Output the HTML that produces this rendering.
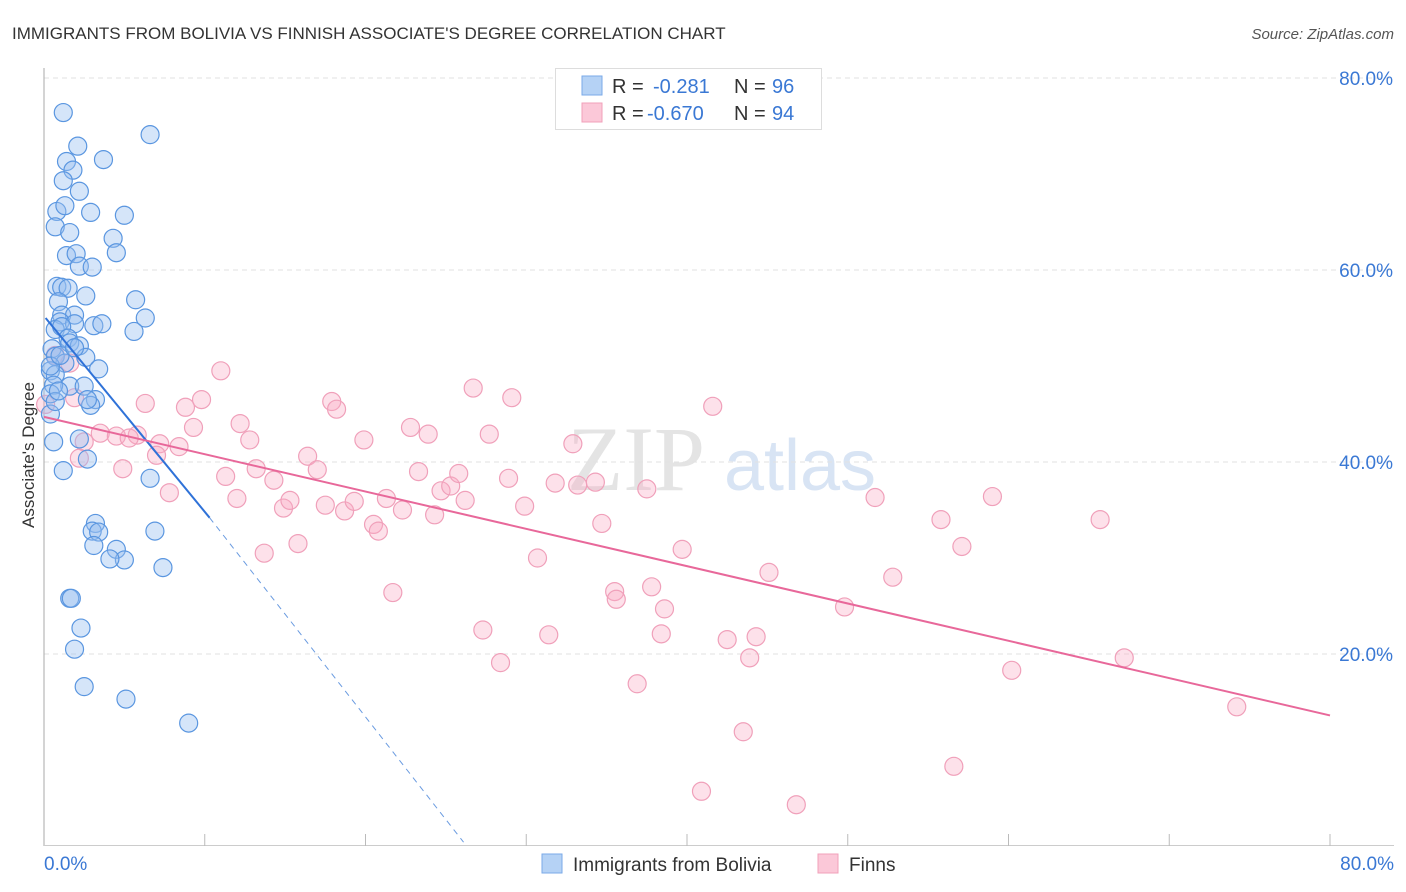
<!DOCTYPE html>
<html><head><meta charset="utf-8"><style>
body{margin:0;background:#fff;font-family:"Liberation Sans",sans-serif;}
#wrap{position:relative;width:1406px;height:892px;overflow:hidden;}
</style></head><body>
<div id="wrap">
<svg id="svg" width="1406" height="892" xmlns="http://www.w3.org/2000/svg" font-family="Liberation Sans, sans-serif">
<text x="12" y="39" font-size="17" fill="#333">IMMIGRANTS FROM BOLIVIA VS FINNISH ASSOCIATE'S DEGREE CORRELATION CHART</text>
<text x="1394" y="39" font-size="15" fill="#555" font-style="italic" text-anchor="end">Source: ZipAtlas.com</text>
<text x="34" y="455" font-size="17" fill="#333" text-anchor="middle" transform="rotate(-90 34 455)">Associate's Degree</text>
<g><text x="636" y="490" font-size="92" fill="#e4e4e4" font-family="Liberation Serif, serif" text-anchor="middle">ZIP</text><text x="800" y="490" font-size="72" fill="#d8e4f4" text-anchor="middle">atlas</text></g>
<g id="grid"></g><g id="axes"></g><g id="pts"></g><g id="lines"></g>
<g>
<rect x="555.5" y="68.5" width="266" height="61" fill="#fff" stroke="#ddd"/>
<rect x="582" y="76" width="20" height="19" fill="#b5d2f5" stroke="#7aaae8"/>
<rect x="582" y="103" width="20" height="19" fill="#fbc8d8" stroke="#f0a0ba"/>
<text x="612" y="93" font-size="20" fill="#333">R = </text><text x="653" y="93" font-size="20" fill="#3a78d4">-0.281</text>
<text x="734" y="93" font-size="20" fill="#333">N = </text><text x="772" y="93" font-size="20" fill="#3a78d4">96</text>
<text x="612" y="120" font-size="20" fill="#333">R = </text><text x="647" y="120" font-size="20" fill="#3a78d4">-0.670</text>
<text x="734" y="120" font-size="20" fill="#333">N = </text><text x="772" y="120" font-size="20" fill="#3a78d4">94</text>
</g>
<g>
<rect x="542" y="854" width="20" height="19" fill="#b5d2f5" stroke="#7aaae8"/>
<text x="573" y="871" font-size="19" fill="#333">Immigrants from Bolivia</text>
<rect x="818" y="854" width="20" height="19" fill="#fbc8d8" stroke="#f0a0ba"/>
<text x="849" y="871" font-size="19" fill="#333">Finns</text>
</g>
</svg></div>
<script>
const NS="http://www.w3.org/2000/svg";
const yTicks=[20,40,60,80];
const yTickLabels=["20.0%","40.0%","60.0%","80.0%"];
const xTickLabels=["0.0%","80.0%"];
const boliviaX=[1.2,6.6,2.1,1.4,3.7,1.8,1.2,2.2,0.8,1.3,2.9,5.0,0.7,1.6,4.3,4.5,1.4,2.0,2.2,3.0,0.8,1.1,1.5,2.6,5.7,0.9,6.3,1.1,1.9,1.0,1.9,3.1,3.6,5.6,0.7,1.1,1.5,1.6,2.2,0.5,0.7,2.6,1.3,3.4,0.4,0.7,1.6,0.6,2.5,3.2,0.4,2.9,2.7,0.4,2.2,2.7,1.2,6.6,0.6,3.2,3.0,3.4,4.5,3.1,6.9,5.0,4.1,7.4,1.6,1.7,2.3,1.9,2.5,5.1,9.0,0.4,0.7,1.0,1.9,0.9];
const boliviaY=[76.4,74.1,72.9,71.3,71.5,70.4,69.3,68.2,66.1,66.7,66.0,65.7,64.5,63.9,63.3,61.8,61.5,61.7,60.4,60.3,58.3,58.2,58.1,57.3,56.9,56.7,55.0,55.3,55.3,54.6,54.4,54.2,54.4,53.6,53.8,54.1,52.9,52.4,52.1,51.8,51.0,50.9,50.3,49.7,49.5,49.1,47.9,48.0,47.9,46.5,47.1,45.9,46.5,45.0,42.4,40.3,39.1,38.3,42.1,33.6,32.8,32.7,30.9,31.3,32.8,29.8,29.9,29.0,25.8,25.8,22.7,20.5,16.6,15.3,12.8,50.0,46.3,51.1,51.9,47.4];
const finnsX=[0.1,0.7,1.6,11.0,26.7,29.1,6.3,8.8,9.8,41.6,17.9,18.2,1.9,2.5,3.5,4.5,5.8,5.3,7.2,9.3,8.4,12.2,12.8,19.9,22.8,23.9,27.7,32.9,2.2,4.9,7.0,11.3,13.2,16.4,17.0,14.3,14.9,15.3,12.0,7.8,17.5,18.7,19.3,20.5,20.8,21.3,22.3,23.3,24.3,24.7,25.3,25.8,26.2,28.9,29.9,31.8,33.2,34.3,34.7,37.5,30.7,13.7,15.8,39.7,21.7,35.5,35.6,37.8,38.6,38.4,31.4,27.3,28.4,36.9,42.5,44.3,43.9,43.5,45.1,40.9,46.8,49.8,51.7,52.8,55.8,57.1,59.0,56.6,60.2,65.7,67.2,74.2];
const finnsY=[46.0,51.1,50.3,49.5,47.7,46.7,46.1,45.7,46.5,45.8,46.3,45.5,46.7,42.1,43.0,42.7,42.8,42.5,41.9,43.6,41.6,44.0,42.3,42.3,43.6,42.9,42.9,41.9,40.4,39.3,40.7,38.5,39.3,40.6,39.2,38.1,35.2,36.0,36.2,36.8,35.5,34.9,35.9,33.5,32.8,36.2,35.0,39.0,34.5,37.0,37.5,38.8,36.0,38.3,35.4,37.8,37.6,37.9,33.6,37.2,30.0,30.5,31.5,30.9,26.4,26.5,25.7,27.0,24.7,22.1,22.0,22.5,19.1,16.9,21.5,21.8,19.6,11.9,28.5,5.7,4.3,24.9,36.3,28.0,34.0,31.2,36.4,8.3,18.3,34.0,19.6,14.5];
const blueLine=[0.1,55.0,10.3,34.2];
const blueDash=[10.3,34.2,26.1,0.4];
const pinkLine=[0,44.7,80,13.6];
const X=v=>44+v/80*1286, Y=v=>846-v/20*192;
function mk(tag,attrs,parent){const e=document.createElementNS(NS,tag);for(const k in attrs)e.setAttribute(k,attrs[k]);document.getElementById(parent).appendChild(e);return e;}
yTicks.forEach((t,i)=>{
 const g=mk("line",{x1:44,x2:1394,y1:Y(t),y2:Y(t),stroke:"#e2e2e2","stroke-dasharray":"5,4"},"grid");
 
 
 const tx=mk("text",{x:1393,y:Y(t)+7,"font-size":19,fill:"#3a78d4","text-anchor":"end"},"axes");tx.textContent=yTickLabels[i];
 
 
});
const ax=mk("line",{x1:44,x2:44,y1:68,y2:846,stroke:"#aaa"},"axes");


const bx=mk("line",{x1:44,x2:1394,y1:845.5,y2:845.5,stroke:"#ccc"},"axes");


for(let v=10;v<=80;v+=10){const t=mk("line",{x1:X(v),x2:X(v),y1:834,y2:846,stroke:"#bbb"},"axes");
 
 }
[[0,"start",44],[80,"end",1394]].forEach((a,i)=>{const t=mk("text",{x:a[2],y:870,"font-size":19,fill:"#3a78d4","text-anchor":a[1]},"axes");t.textContent=xTickLabels[i];
 
 });
finnsX.forEach((v,i)=>{const c=mk("circle",{cx:X(v),cy:Y(finnsY[i]),r:9,fill:"rgba(248,170,195,0.35)",stroke:"#f0a0ba","stroke-width":1.2},"pts");
 
 });
boliviaX.forEach((v,i)=>{const c=mk("circle",{cx:X(v),cy:Y(boliviaY[i]),r:9,fill:"rgba(150,190,240,0.4)",stroke:"#5a96e0","stroke-width":1.2},"pts");
 
 });
let l=mk("line",{x1:X(blueDash[0]),y1:Y(blueDash[1]),x2:X(blueDash[2]),y2:Y(blueDash[3]),stroke:"#6a9be0","stroke-dasharray":"6,5"},"lines");


l=mk("line",{x1:X(blueLine[0]),y1:Y(blueLine[1]),x2:X(blueLine[2]),y2:Y(blueLine[3]),stroke:"#2f72d8","stroke-width":2},"lines");


l=mk("line",{x1:X(pinkLine[0]),y1:Y(pinkLine[1]),x2:X(pinkLine[2]),y2:Y(pinkLine[3]),stroke:"#e8689a","stroke-width":2},"lines");


</script>
</body></html>
